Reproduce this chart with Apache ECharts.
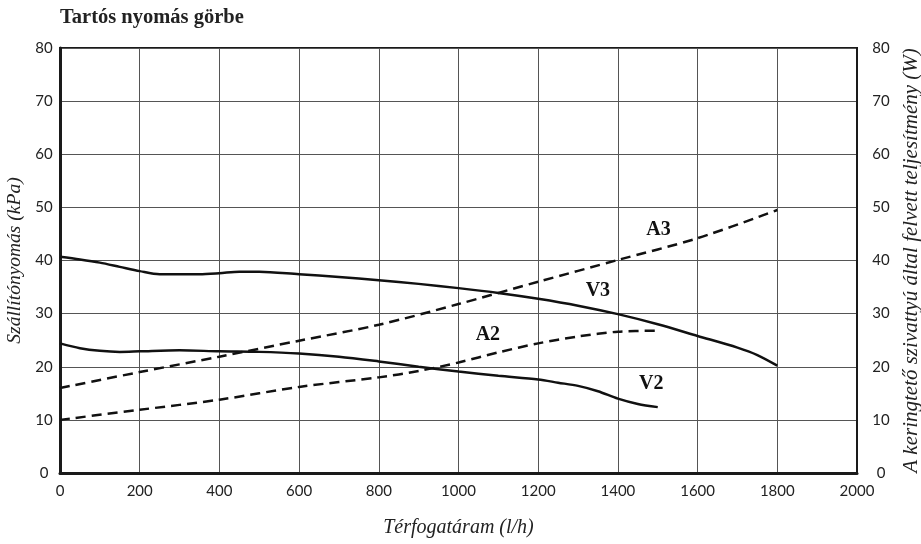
<!DOCTYPE html>
<html>
<head>
<meta charset="utf-8">
<script src="https://cdn.jsdelivr.net/npm/echarts@6/dist/echarts.min.js"></script>
<style>
html,body{margin:0;padding:0;background:#fff;}
#chart{width:921px;height:544px;}
</style>
</head>
<body>
<div id="chart"></div>
<script>
// Data
const xTicks = [0, 200, 400, 600, 800, 1000, 1200, 1400, 1600, 1800, 2000];
const yTicks = [0, 10, 20, 30, 40, 50, 60, 70, 80];

const v3Flow = [0, 50, 100, 150, 200, 250, 300, 350, 400, 450, 500, 600, 700, 800, 900, 1000, 1100, 1200, 1300, 1400, 1500, 1600, 1700, 1750, 1800];
const v3Pressure = [40.7, 40.2, 39.6, 38.8, 38.0, 37.4, 37.4, 37.4, 37.6, 37.9, 37.9, 37.4, 36.9, 36.3, 35.6, 34.8, 33.9, 32.8, 31.5, 29.9, 28.0, 25.8, 23.6, 22.2, 20.2];

const v2Flow = [0, 50, 100, 150, 200, 300, 400, 500, 600, 700, 800, 900, 1000, 1100, 1200, 1250, 1300, 1350, 1400, 1450, 1500];
const v2Pressure = [24.4, 23.5, 23.0, 22.8, 22.9, 23.1, 22.9, 22.8, 22.5, 21.9, 21.0, 20.0, 19.1, 18.3, 17.6, 17.0, 16.4, 15.4, 14.0, 13.0, 12.4];

const a3Flow = [0, 200, 400, 600, 800, 1000, 1200, 1400, 1600, 1800];
const a3Power = [16.0, 19.0, 21.9, 24.9, 27.9, 31.8, 36.0, 40.1, 44.2, 49.5];

const a2Flow = [0, 200, 400, 600, 800, 900, 1000, 1100, 1200, 1300, 1400, 1500];
const a2Power = [10.0, 11.9, 13.8, 16.2, 18.0, 19.2, 20.8, 22.7, 24.4, 25.7, 26.6, 26.8];

const curveLabels = [
  {name: 'A3', x: 1503, y: 45.7},
  {name: 'V3', x: 1351, y: 34.2},
  {name: 'A2', x: 1075, y: 26.0},
  {name: 'V2', x: 1485, y: 16.6}
];

const zip = (xs, ys) => xs.map((x, i) => [x, ys[i]]);

const chart = echarts.init(document.getElementById('chart'), null, {renderer: 'canvas'});

const tickFont = {fontFamily: 'Lato', fontSize: 15, color: '#222'};
const nameFont = (size) => ({fontFamily: 'Liberation Serif', fontStyle: 'italic', fontSize: size, color: '#222'});

const lineStyleSolid = {color: '#111', width: 2.5};
const lineStyleDash = {color: '#111', width: 2.5, type: [10, 6]};

function yAxisDef(pos, name, gap, size) {
  return {
    type: 'value', position: pos, min: 0, max: 80, interval: 10,
    name: name, nameLocation: 'middle', nameGap: gap, nameRotate: 90,
    nameTextStyle: nameFont(size),
    axisLine: {show: true, lineStyle: {color: '#1a1a1a', width: pos === 'left' ? 3 : 2}},
    axisTick: {show: false},
    axisLabel: Object.assign({align: 'center'}, tickFont, {margin: pos === 'right' ? 24 : 16}),
    splitLine: {show: pos === 'left', lineStyle: {color: '#555', width: 1}}
  };
}

const option = {
  animation: false,
  backgroundColor: '#fff',
  title: {
    text: 'Tartós nyomás görbe', left: 55, top: 2,
    textStyle: {fontFamily: 'Liberation Serif', fontWeight: 'bold', fontSize: 20.5, color: '#222'}
  },
  grid: {left: 60, right: 64, top: 48, bottom: 71, show: true, borderColor: '#1a1a1a', borderWidth: 2,
         containLabel: false, outerBoundsMode: 'none'},
  xAxis: {
    type: 'value', min: 0, max: 2000, interval: 200,
    name: 'Térfogatáram (l/h)', nameLocation: 'middle', nameGap: 45,
    nameTextStyle: nameFont(20),
    axisLine: {show: true, onZero: false, lineStyle: {color: '#1a1a1a', width: 3}},
    axisTick: {show: false},
    axisLabel: Object.assign({margin: 11, formatter: v => String(v)}, tickFont),
    splitLine: {show: true, lineStyle: {color: '#555', width: 1}}
  },
  yAxis: [
    yAxisDef('left', 'Szállítónyomás (kPa)', 27, 19.5),
    yAxisDef('right', 'A keringtető szivattyú által felvett teljesítmény (W)', 29, 21)
  ],
  series: [
    {name: 'V3', type: 'line', yAxisIndex: 0, data: zip(v3Flow, v3Pressure), smooth: 0.3, symbol: 'none', lineStyle: lineStyleSolid},
    {name: 'V2', type: 'line', yAxisIndex: 0, data: zip(v2Flow, v2Pressure), smooth: 0.3, symbol: 'none', lineStyle: lineStyleSolid},
    {name: 'A3', type: 'line', yAxisIndex: 1, data: zip(a3Flow, a3Power), smooth: 0.3, symbol: 'none', lineStyle: lineStyleDash},
    {name: 'A2', type: 'line', yAxisIndex: 1, data: zip(a2Flow, a2Power), smooth: 0.3, symbol: 'none', lineStyle: lineStyleDash},
    {
      name: 'labels', type: 'scatter', yAxisIndex: 0, symbolSize: 1,
      itemStyle: {opacity: 0},
      data: curveLabels.map(l => ({value: [l.x, l.y], name: l.name})),
      label: {
        show: true, position: [0, 0], align: 'center', verticalAlign: 'middle',
        formatter: p => p.name, opacity: 1,
        fontFamily: 'Liberation Serif', fontWeight: 'bold', fontSize: 20, color: '#111'
      },
      silent: true
    }
  ]
};
chart.setOption(option);
</script>
</body>
</html>
